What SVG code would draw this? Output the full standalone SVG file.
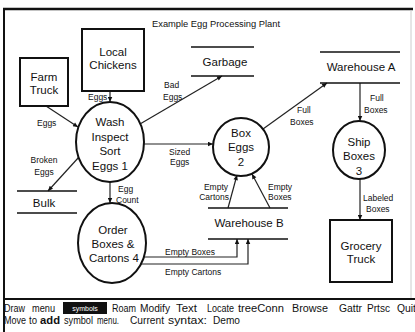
<svg xmlns="http://www.w3.org/2000/svg" width="415" height="332" viewBox="0 0 415 332">
<defs>
<marker id="arr" viewBox="0 0 10 10" refX="10" refY="5" markerWidth="6" markerHeight="5" orient="auto" markerUnits="userSpaceOnUse"><path d="M0,0.5 L10,5 L0,9.5 z" fill="#111"/></marker>
<style>
text{font-family:"Liberation Sans",Arial,sans-serif;fill:#111}
.big{font-size:11.5px}
.sm{font-size:8.5px}
.mid{text-anchor:middle}
.box{fill:#fff;stroke:#111;stroke-width:2}
.proc{fill:#fff;stroke:#111;stroke-width:2}
.store{stroke:#111;stroke-width:1.6;fill:none}
.conn{stroke:#222;stroke-width:1.2;fill:none;marker-end:url(#arr)}
.menu{font-size:10px}
</style>
</defs>
<rect width="415" height="332" fill="#fff"/>
<g id="frame">
<line x1="3" y1="9" x2="413" y2="9" stroke="#111" stroke-width="2.5"/>
<line x1="4" y1="9" x2="4" y2="332" stroke="#111" stroke-width="2"/>
<line x1="411" y1="10" x2="411" y2="298" stroke="#ccc" stroke-width="1"/>
<line x1="4" y1="299" x2="415" y2="299" stroke="#111" stroke-width="2"/>
</g>
<text x="152" y="27" font-size="8.5" textLength="128" lengthAdjust="spacingAndGlyphs">Example Egg Processing Plant</text>
<g id="connectors">
<line class="conn" x1="46" y1="106" x2="78" y2="127"/>
<line class="conn" x1="110" y1="91" x2="110" y2="102"/>
<line class="conn" x1="140" y1="124" x2="222" y2="76"/>
<line class="conn" x1="79" y1="157" x2="48" y2="191"/>
<line class="conn" x1="110" y1="182" x2="110" y2="203"/>
<line class="conn" x1="144" y1="144" x2="213" y2="144"/>
<line class="conn" x1="263" y1="129" x2="327" y2="83"/>
<line class="conn" x1="360" y1="83" x2="360" y2="121"/>
<line class="conn" x1="360" y1="179" x2="360" y2="220"/>
<line class="conn" x1="228" y1="208" x2="237" y2="175"/>
<line class="conn" x1="270" y1="208" x2="252" y2="174"/>
<polyline class="conn" points="144,257 237,257 237,239"/>
<polyline class="conn" points="141,264 248,264 248,239"/>
<text class="sm" x="37" y="126">Eggs</text>
<text class="sm" x="88" y="100">Eggs</text>
<text class="sm" x="164" y="88">Bad</text>
<text class="sm" x="163" y="100">Eggs</text>
<text class="sm mid" x="44" y="163">Broken</text>
<text class="sm mid" x="44" y="175">Eggs</text>
<text class="sm" x="118" y="192">Egg</text>
<text class="sm" x="116" y="203">Count</text>
<text class="sm" x="169" y="155">Sized</text>
<text class="sm" x="170" y="165">Eggs</text>
<text class="sm" x="228" y="190" text-anchor="end">Empty</text>
<text class="sm" x="229" y="200" text-anchor="end">Cartons</text>
<text class="sm" x="268" y="190">Empty</text>
<text class="sm" x="268" y="200">Boxes</text>
<text class="sm" x="297" y="113">Full</text>
<text class="sm" x="290" y="125">Boxes</text>
<text class="sm" x="370" y="101">Full</text>
<text class="sm" x="364" y="113">Boxes</text>
<text class="sm" x="363" y="201">Labeled</text>
<text class="sm" x="366" y="212">Boxes</text>
<text class="sm" x="165" y="255">Empty Boxes</text>
<text class="sm" x="165" y="275">Empty Cartons</text>
</g>
<g id="farm-truck">
<rect class="box" x="20" y="58" width="48" height="48"/>
<text class="big mid" x="44" y="81">Farm</text>
<text class="big mid" x="44" y="94">Truck</text>
</g>
<g id="local-chickens">
<rect class="box" x="82" y="29" width="62" height="62"/>
<text class="big mid" x="113" y="56">Local</text>
<text class="big mid" x="113" y="69">Chickens</text>
</g>
<g id="wash">
<ellipse class="proc" cx="110" cy="142" rx="34" ry="40"/>
<text class="big mid" x="110" y="126">Wash</text>
<text class="big mid" x="110" y="141">Inspect</text>
<text class="big mid" x="110" y="155">Sort</text>
<text class="big mid" x="110" y="170">Eggs 1</text>
</g>
<g id="order">
<ellipse class="proc" cx="112" cy="243" rx="34" ry="40"/>
<text class="big mid" x="113" y="234">Order</text>
<text class="big mid" x="113" y="248">Boxes &amp;</text>
<text class="big mid" x="114" y="262">Cartons 4</text>
</g>
<g id="box-eggs">
<ellipse class="proc" cx="241" cy="147" rx="28" ry="29"/>
<text class="big mid" x="241" y="137">Box</text>
<text class="big mid" x="241" y="151">Eggs</text>
<text class="big mid" x="241" y="166">2</text>
</g>
<g id="ship-boxes">
<ellipse class="proc" cx="359" cy="150" rx="26" ry="29"/>
<text class="big mid" x="359" y="146">Ship</text>
<text class="big mid" x="359" y="160">Boxes</text>
<text class="big mid" x="359" y="175">3</text>
</g>
<g id="grocery-truck">
<rect class="box" x="330" y="220" width="62" height="62"/>
<text class="big mid" x="361" y="250">Grocery</text>
<text class="big mid" x="361" y="263">Truck</text>
</g>
<g id="garbage">
<line class="store" x1="191" y1="47" x2="254" y2="47"/>
<line class="store" x1="191" y1="76" x2="254" y2="76"/>
<text class="big mid" x="225" y="66">Garbage</text>
</g>
<g id="warehouse-a">
<line class="store" x1="320" y1="52" x2="400" y2="52" stroke-width="2"/>
<line class="store" x1="320" y1="83" x2="400" y2="83"/>
<text class="big mid" x="361" y="71">Warehouse A</text>
</g>
<g id="warehouse-b">
<line class="store" x1="208" y1="208" x2="288" y2="208"/>
<line class="store" x1="208" y1="239" x2="288" y2="239"/>
<text class="big mid" x="249" y="227">Warehouse B</text>
</g>
<g id="bulk">
<line class="store" x1="17" y1="191" x2="77" y2="191"/>
<line class="store" x1="17" y1="213" x2="77" y2="213"/>
<text class="big mid" x="44" y="207">Bulk</text>
</g>
<g id="menu">
<rect x="63" y="302" width="44" height="12" fill="#111"/>
<text x="85" y="311" font-size="7" text-anchor="middle" style="fill:#fff">symbols</text>
<text class="menu" y="312"><tspan x="4" textLength="21" lengthAdjust="spacingAndGlyphs">Draw</tspan><tspan x="32" textLength="23" lengthAdjust="spacingAndGlyphs">menu</tspan><tspan x="112" textLength="24" lengthAdjust="spacingAndGlyphs">Roam</tspan><tspan x="140" textLength="30" lengthAdjust="spacingAndGlyphs">Modify</tspan><tspan x="176" textLength="21" lengthAdjust="spacingAndGlyphs">Text</tspan><tspan x="207" textLength="27" lengthAdjust="spacingAndGlyphs">Locate</tspan><tspan x="238" textLength="46" lengthAdjust="spacingAndGlyphs">treeConn</tspan><tspan x="292" textLength="36" lengthAdjust="spacingAndGlyphs">Browse</tspan><tspan x="339" textLength="23" lengthAdjust="spacingAndGlyphs">Gattr</tspan><tspan x="367" textLength="23" lengthAdjust="spacingAndGlyphs">Prtsc</tspan><tspan x="397" textLength="19" lengthAdjust="spacingAndGlyphs">Quit</tspan></text>
<text class="menu" y="324"><tspan x="4" textLength="22" lengthAdjust="spacingAndGlyphs">Move</tspan><tspan x="29" textLength="8" lengthAdjust="spacingAndGlyphs">to</tspan><tspan x="40" textLength="20" lengthAdjust="spacingAndGlyphs" font-weight="bold">add</tspan><tspan x="64" textLength="29" lengthAdjust="spacingAndGlyphs">symbol</tspan><tspan x="97" textLength="22" lengthAdjust="spacingAndGlyphs">menu.</tspan><tspan x="130" textLength="34" lengthAdjust="spacingAndGlyphs">Current</tspan><tspan x="168" textLength="39" lengthAdjust="spacingAndGlyphs">syntax:</tspan><tspan x="213" textLength="27" lengthAdjust="spacingAndGlyphs">Demo</tspan></text>
</g>
</svg>
